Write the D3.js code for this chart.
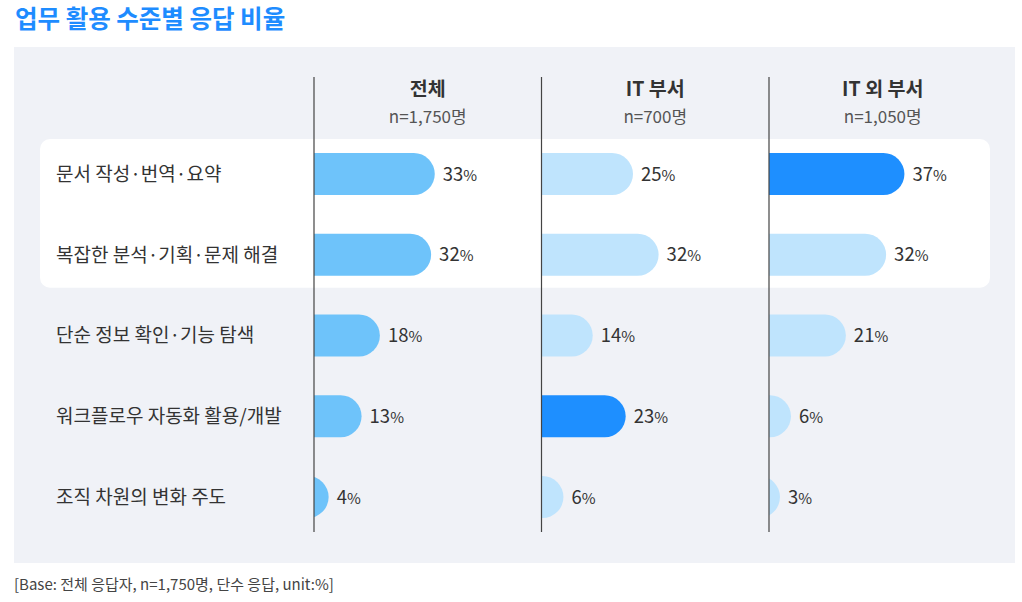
<!DOCTYPE html>
<html>
<head>
<meta charset="utf-8">
<script src="https://cdn.jsdelivr.net/npm/d3@7"></script>
<style>
  body { margin: 0; background: #fff; }
  svg { display: block; font-family: "Noto Sans CJK KR", "Noto Sans", sans-serif; }
</style>
</head>
<body>
<svg id="chart" width="1022" height="602"></svg>
<script>
const categories = [
  "문서 작성·번역·요약",
  "복잡한 분석·기획·문제 해결",
  "단순 정보 확인·기능 탐색",
  "워크플로우 자동화 활용/개발",
  "조직 차원의 변화 주도"
];
const groups = ["전체", "IT 부서", "IT 외 부서"];
const groupN = ["n=1,750명", "n=700명", "n=1,050명"];
const totalValues = [33, 32, 18, 13, 4];
const itValues = [25, 32, 14, 23, 6];
const nonItValues = [37, 32, 21, 6, 3];
// which row is emphasised in each group (-1 = none)
const highlightRow = [-1, 3, 0];
const boxedRows = [0, 1];

const title = "업무 활용 수준별 응답 비율";
const footnote = "[Base: 전체 응답자, n=1,750명, 단수 응답, unit:%]";

const seriesValues = [totalValues, itValues, nonItValues];

const svg = d3.select("#chart");

// title
svg.append("text")
  .attr("x", 15)
  .attr("y", 28)
  .attr("fill", "#1e8cff")
  .attr("font-size", 24.5)
  .attr("font-weight", 700)
  .text(title);

// grey panel
svg.append("rect")
  .attr("x", 14).attr("y", 47)
  .attr("width", 1001).attr("height", 516)
  .attr("fill", "#f0f2f7");

const y = d3.scaleBand()
  .domain(categories)
  .range([133.6, 537.4])
  .paddingInner(0.48)
  .paddingOuter(0.24);

const colX = d3.scalePoint().domain(groups).range([314, 769]);
const colStep = colX.step();
const w = d3.scaleLinear().domain([0, 100]).range([0, 366]);

// white box behind first rows
const boxTop = y(categories[boxedRows[0]]) - 14;
const boxBottom = y(categories[boxedRows[boxedRows.length - 1]]) + y.bandwidth() + 12;
svg.append("rect")
  .attr("x", 40).attr("y", boxTop)
  .attr("width", 950).attr("height", boxBottom - boxTop)
  .attr("rx", 10)
  .attr("fill", "#ffffff");

// category labels
svg.append("g")
  .selectAll("text")
  .data(categories)
  .join("text")
  .attr("x", 56)
  .attr("y", d => y(d) + y.bandwidth() / 2)
  .attr("dy", "0.36em")
  .attr("font-size", 19)
  .attr("fill", "#333")
  .text(d => d);

const defs = svg.append("defs");
const r = y.bandwidth() / 2;

groups.forEach((g, gi) => {
  const x0 = colX(g);
  const clipId = "clip" + gi;
  defs.append("clipPath").attr("id", clipId)
    .append("rect")
    .attr("x", x0).attr("y", 0)
    .attr("width", colStep).attr("height", 602);

  // header
  const cx = x0 + colStep / 2;
  svg.append("text")
    .attr("x", cx).attr("y", 96)
    .attr("text-anchor", "middle")
    .attr("font-size", 19.5)
    .attr("font-weight", 700)
    .attr("fill", "#333")
    .text(g);
  svg.append("text")
    .attr("x", cx).attr("y", 123)
    .attr("text-anchor", "middle")
    .attr("font-size", 17)
    .attr("fill", "#555")
    .text(groupN[gi]);

  const data = categories.map((c, i) => ({ c, i, v: seriesValues[gi][i] }));
  const fill = d => gi === 0 ? "#6ec3fa" : (d.i === highlightRow[gi] ? "#1e8fff" : "#bfe4fd");

  svg.append("g")
    .attr("clip-path", `url(#${clipId})`)
    .selectAll("rect")
    .data(data)
    .join("rect")
    .attr("x", x0 - 2 * r)
    .attr("y", d => y(d.c))
    .attr("width", d => w(d.v) + 2 * r)
    .attr("height", y.bandwidth())
    .attr("rx", r)
    .attr("fill", fill);

  const labels = svg.append("g")
    .selectAll("text")
    .data(data)
    .join("text")
    .attr("x", d => x0 + w(d.v) + 8)
    .attr("y", d => y(d.c) + y.bandwidth() / 2)
    .attr("dy", "0.36em")
    .attr("font-size", 18.5)
    .attr("fill", "#333");
  labels.append("tspan").text(d => d.v);
  labels.append("tspan").attr("font-size", 15).text("%");

  // axis line
  svg.append("line")
    .attr("x1", x0).attr("x2", x0)
    .attr("y1", 77).attr("y2", 532)
    .attr("stroke", "#444")
    .attr("stroke-width", 1.2);
});

// footnote
svg.append("text")
  .attr("x", 14)
  .attr("y", 590)
  .attr("font-size", 15)
  .attr("fill", "#444")
  .text(footnote);
</script>
</body>
</html>
